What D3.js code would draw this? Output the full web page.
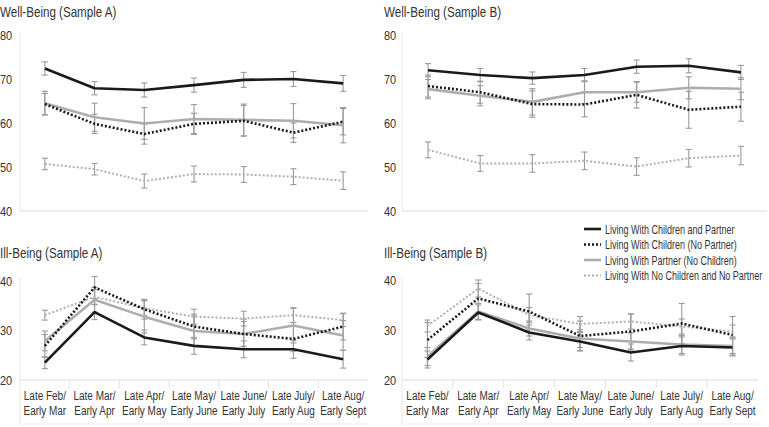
<!DOCTYPE html>
<html><head><meta charset="utf-8">
<script src="https://cdn.jsdelivr.net/npm/d3@7"></script>
<style>body{margin:0;background:#fff}svg{display:block}text{font-family:"Liberation Sans",Arial,sans-serif;fill:#333}</style>
</head><body><svg id="c" width="769" height="427"></svg>
<script>
const categories = [["Late Feb/","Early Mar"],["Late Mar/","Early Apr"],["Late Apr/","Early May"],["Late May/","Early June"],["Late June/","Early July"],["Late July/","Early Aug"],["Late Aug/","Early Sept"]];
const seriesNames = ["Living With Children and Partner","Living With Children (No Partner)","Living With Partner (No Children)","Living With No Children and No Partner"];
// Well-Being Sample A
const wbA_cp = [72.4,67.9,67.5,68.6,69.8,70.0,69.0];
const wbA_cn = [64.3,59.8,57.5,59.8,60.5,57.8,60.3];
const wbA_pn = [64.5,61.3,59.9,60.9,60.7,60.5,59.5];
const wbA_nn = [50.7,49.5,46.8,48.4,48.3,47.8,46.9];
const wbA_cp_err = [1.5,1.5,1.6,1.6,1.7,1.7,1.8];
const wbA_cn_err = [2.4,2.2,2.3,2.4,3.5,2.2,3.0];
const wbA_pn_err = [2.7,3.2,3.6,3.3,3.6,3.9,4.0];
const wbA_nn_err = [1.3,1.3,1.6,1.8,1.8,1.8,2.0];
// Well-Being Sample B
const wbB_cp = [72.0,70.9,70.2,70.9,72.8,73.0,71.5];
const wbB_cn = [68.4,67.0,64.3,64.2,66.4,63.0,63.7];
const wbB_pn = [67.7,66.2,64.8,67.0,67.0,68.0,67.8];
const wbB_nn = [53.9,50.8,50.8,51.4,50.1,52.0,52.6];
const wbB_cp_err = [1.5,1.5,1.4,1.5,1.5,1.6,1.6];
const wbB_cn_err = [2.5,2.5,3.0,2.8,3.0,4.2,3.3];
const wbB_pn_err = [2.2,2.3,3.0,2.6,2.3,2.5,2.5];
const wbB_nn_err = [1.8,1.8,2.0,2.0,2.0,2.0,2.1];
// Ill-Being Sample A
const ibA_cp = [23.5,33.7,28.6,26.9,26.2,26.2,24.2];
const ibA_cn = [26.9,38.7,34.3,30.8,29.3,28.3,30.8];
const ibA_pn = [27.9,36.2,32.8,29.9,29.3,31.0,29.0];
const ibA_nn = [33.1,36.8,34.5,32.8,32.4,33.1,32.1];
const ibA_cp_err = [1.2,1.5,1.5,1.7,1.7,1.8,1.8];
const ibA_cn_err = [2.3,2.2,2.0,2.5,2.5,2.5,2.7];
const ibA_pn_err = [2.0,2.5,3.3,3.0,3.0,3.5,3.0];
const ibA_nn_err = [1.0,1.5,1.5,1.5,1.5,1.5,1.3];
// Ill-Being Sample B
const ibB_cp = [24.1,33.5,29.5,27.7,25.5,26.8,26.5];
const ibB_cn = [28.0,36.3,33.7,28.8,29.7,31.3,29.0];
const ibB_pn = [24.7,33.7,30.3,28.3,27.7,27.1,26.8];
const ibB_nn = [30.8,38.3,33.0,31.2,31.7,30.7,29.7];
const ibB_cp_err = [1.7,1.5,1.5,1.8,1.7,1.8,1.7];
const ibB_cn_err = [3.5,3.0,3.5,3.0,3.5,4.0,3.7];
const ibB_pn_err = [1.8,1.6,1.5,1.8,1.7,1.8,1.8];
const ibB_nn_err = [1.2,1.7,1.5,1.5,1.5,1.5,1.3];
const wbTicks = [40,50,60,70,80];
const ibTicks = [20,30,40];

const styles = [
  {color:"#1a1a1a", width:2.6, dash:null},
  {color:"#1a1a1a", width:2.6, dash:"2,2"},
  {color:"#adadad", width:2.6, dash:null},
  {color:"#b0b0b0", width:2, dash:"2,2"}
];

const svg = d3.select("#c");
const keys = categories.map((c,i)=>i);

// text drawn with a horizontal squeeze (reference uses a narrow typeface)
function ntext(parent, x, y, str, size, f, anchor){
  return parent.append("text")
    .attr("transform",`translate(${x},${y}) scale(${f},1)`)
    .attr("font-size",size).attr("text-anchor",anchor||"start").text(str);
}

function panel(opts){
  const {title, tx, ty, xr, yr, dom, ticks, series, errs, showX} = opts;
  const g = svg.append("g");
  const x = d3.scaleBand().domain(keys).range(xr).padding(0);
  const y = d3.scaleLinear().domain(dom).range(yr);
  ntext(g, tx, ty, title, 14.5, 0.8);
  const bottomY = showX ? yr[0]+44 : yr[0];
  g.append("line").attr("x1",xr[0]).attr("x2",xr[0]).attr("y1",yr[1]-3).attr("y2",bottomY).attr("stroke","#e6e6e6");
  g.append("line").attr("x1",xr[0]).attr("x2",xr[1]).attr("y1",yr[0]).attr("y2",yr[0]).attr("stroke","#dcdcdc");
  ticks.forEach(t=>ntext(g, tx, y(t)+4.5, String(t), 12.5, 0.88));
  if(showX){
    g.append("line").attr("x1",xr[0]).attr("x2",xr[1]).attr("y1",bottomY).attr("y2",bottomY).attr("stroke","#ececec");
    g.selectAll(".sep").data(keys.slice(1)).enter().append("line")
      .attr("x1",d=>x(d)).attr("x2",d=>x(d)).attr("y1",yr[0]).attr("y2",yr[0]+8).attr("stroke","#e3e3e3");
    keys.forEach(d=>{
      categories[d].forEach((s,k)=>{
        ntext(g, x(d)+x.bandwidth()/2, yr[0]+20+k*15, s, 13.5, 0.74, "middle");
      });
    });
  }
  const cx = i => x(i)+x.bandwidth()/2;
  series.forEach((s,si)=>{
    s.forEach((v,i)=>{
      const e = errs[si][i];
      const eg = g.append("g").attr("stroke","#9a9a9a").attr("stroke-width",1.1);
      eg.append("line").attr("x1",cx(i)).attr("x2",cx(i)).attr("y1",y(v-e)).attr("y2",y(v+e));
      eg.append("line").attr("x1",cx(i)-3).attr("x2",cx(i)+3).attr("y1",y(v-e)).attr("y2",y(v-e));
      eg.append("line").attr("x1",cx(i)-3).attr("x2",cx(i)+3).attr("y1",y(v+e)).attr("y2",y(v+e));
    });
  });
  const line = d3.line().x((d,i)=>cx(i)).y(d=>y(d));
  [3,2,1,0].forEach(si=>{
    const st = styles[si];
    g.append("path").datum(series[si]).attr("d",line).attr("fill","none")
      .attr("stroke",st.color).attr("stroke-width",st.width)
      .attr("stroke-dasharray",st.dash).attr("stroke-linejoin","round");
  });
}

panel({title:"Well-Being (Sample A)", tx:0, ty:17, xr:[20,368], yr:[211,35], dom:[40,80], ticks:wbTicks,
  series:[wbA_cp,wbA_cn,wbA_pn,wbA_nn], errs:[wbA_cp_err,wbA_cn_err,wbA_pn_err,wbA_nn_err], showX:false});
panel({title:"Well-Being (Sample B)", tx:384, ty:17, xr:[402,767], yr:[211,35], dom:[40,80], ticks:wbTicks,
  series:[wbB_cp,wbB_cn,wbB_pn,wbB_nn], errs:[wbB_cp_err,wbB_cn_err,wbB_pn_err,wbB_nn_err], showX:false});
panel({title:"Ill-Being (Sample A)", tx:0, ty:258, xr:[20,368], yr:[380,281], dom:[20,40], ticks:ibTicks,
  series:[ibA_cp,ibA_cn,ibA_pn,ibA_nn], errs:[ibA_cp_err,ibA_cn_err,ibA_pn_err,ibA_nn_err], showX:true});
panel({title:"Ill-Being (Sample B)", tx:384, ty:258, xr:[402,758], yr:[380,280], dom:[20,40], ticks:ibTicks,
  series:[ibB_cp,ibB_cn,ibB_pn,ibB_nn], errs:[ibB_cp_err,ibB_cn_err,ibB_pn_err,ibB_nn_err], showX:true});

// legend
const leg = svg.append("g").attr("transform","translate(584,229)");
seriesNames.forEach((n,i)=>{
  const st = styles[i];
  const yy = i*15.5;
  leg.append("line").attr("x1",0).attr("x2",17).attr("y1",yy).attr("y2",yy)
    .attr("stroke",st.color).attr("stroke-width",st.width).attr("stroke-dasharray",st.dash);
  ntext(leg, 21, yy+4.5, n, 12.5, 0.72);
});
</script></body></html>
